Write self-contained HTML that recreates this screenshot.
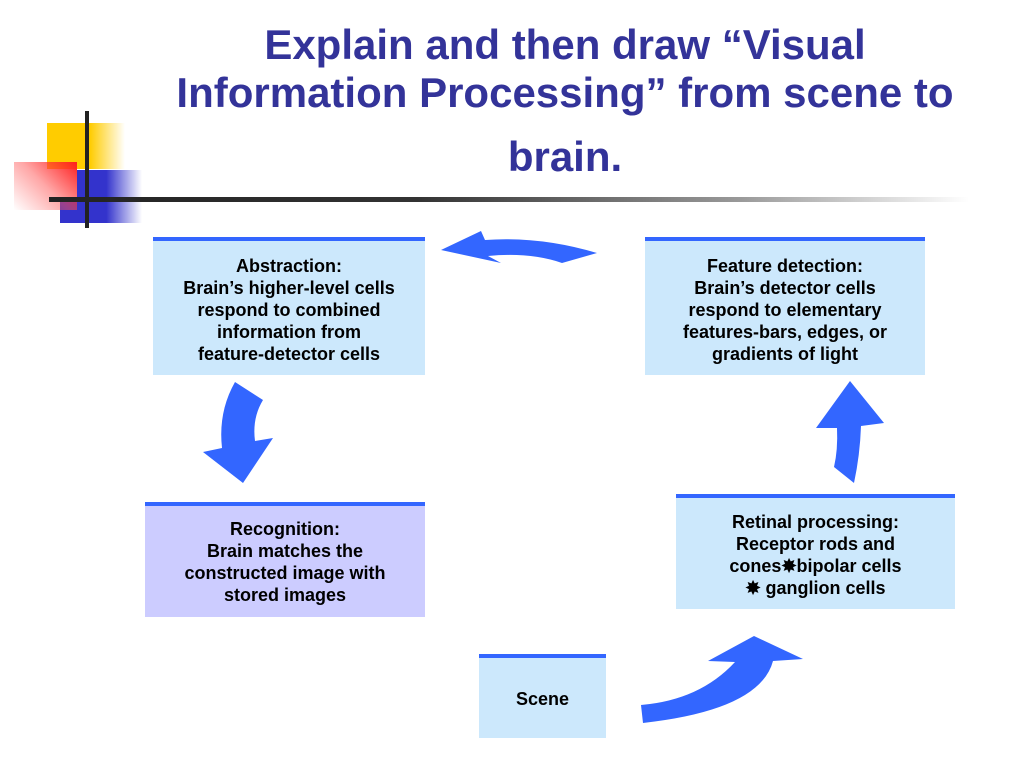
<!DOCTYPE html>
<html><head><style>
body{margin:0;width:1024px;height:768px;background:#fff;position:relative;overflow:hidden;font-family:"Liberation Sans",Arial,sans-serif}
.t{position:absolute;left:120px;width:890px;text-align:center;color:#333399;font-weight:bold;font-size:42px;line-height:48px}
.b{position:absolute;background:#cce8fc;border-top:4px solid #3366ff;box-sizing:border-box;font-weight:bold;font-size:18px;line-height:22px;text-align:center;color:#000}
</style></head><body>
<div class="t" style="top:21px">Explain and then draw “Visual</div>
<div class="t" style="top:69px">Information Processing” from scene to</div>
<div class="t" style="top:133px">brain.</div>
<div style="position:absolute;left:47px;top:123px;width:78px;height:46px;background:linear-gradient(90deg,#ffcc00 0%,#ffcc00 55%,rgba(255,204,0,0) 100%)"></div>
<div style="position:absolute;left:77px;top:170px;width:65px;height:53px;background:linear-gradient(90deg,#3333cc 0%,#3333cc 45%,rgba(51,51,204,0) 100%)"></div>
<div style="position:absolute;left:60px;top:200px;width:40px;height:23px;background:#3333cc"></div>
<div style="position:absolute;left:14px;top:162px;width:63px;height:48px;background:linear-gradient(225deg,#ff2020 0%,rgba(255,80,80,.5) 50%,rgba(255,200,200,0) 100%)"></div>
<div style="position:absolute;left:85px;top:111px;width:4px;height:117px;background:#222"></div>
<div style="position:absolute;left:49px;top:197px;width:920px;height:5px;background:linear-gradient(90deg,#222 0%,#333 40%,#999 75%,rgba(255,255,255,0) 100%)"></div>

<div class="b" style="left:153px;top:237px;width:272px;height:138px;padding-top:14px">Abstraction:<br>Brain’s higher-level cells<br>respond to combined<br>information from<br>feature-detector cells</div>
<div class="b" style="left:645px;top:237px;width:280px;height:138px;padding-top:14px">Feature detection:<br>Brain’s detector cells<br>respond to elementary<br>features-bars, edges, or<br>gradients of light</div>
<div class="b" style="left:145px;top:502px;width:280px;height:115px;padding-top:12px;background:#ccccff">Recognition:<br>Brain matches the<br>constructed image with<br>stored images</div>
<div class="b" style="left:676px;top:494px;width:279px;height:115px;padding-top:13px">Retinal processing:<br>Receptor rods and<br>cones✸bipolar cells<br>✸ ganglion cells</div>
<div class="b" style="left:479px;top:654px;width:127px;height:84px;padding-top:30px">Scene</div>

<svg width="1024" height="768" style="position:absolute;left:0;top:0">
<g fill="#3366ff">
<path d="M441,250 L481,231 L485,240 Q540,236 597,253 L562,263 Q530,252 488,256 L501,263 Z"/>
<path d="M235,382 L263,400 Q252,418 255,441 L273,438 L243,483 L203,452 L222,448 Q218,412 235,382 Z"/>
<path d="M850,381 L884,423 L861,426 Q860,455 854,483 L834,467 Q838,450 837,428 L816,428 Z"/>
<path d="M641,705 Q700,700 735,662 L708,661 L754,636 L803,659 L773,661 Q760,710 643,723 Z"/>
</g></svg>
</body></html>
